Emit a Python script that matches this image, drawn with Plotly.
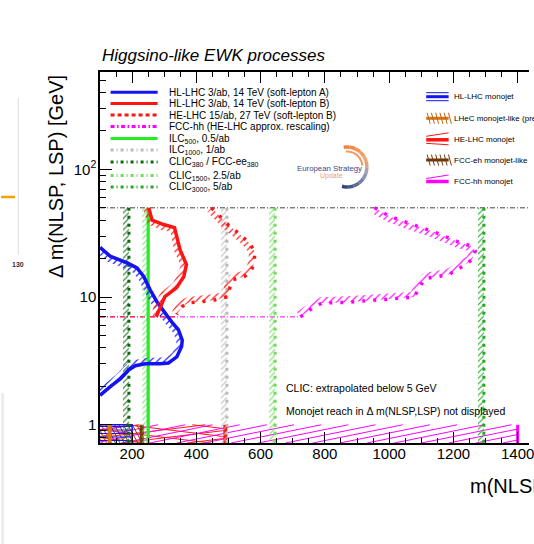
import math
import plotly.graph_objects as go

# ---------------- data ----------------
# HL-LHC 3/ab, 14 TeV, soft-lepton analysis A: reach contour (m(NLSP) [GeV], dm [GeV])
hl_a_mass = [100, 133, 185, 215, 236, 256, 277, 298, 323, 344, 356, 354, 339, 313, 287, 241, 210, 190, 164, 133, 100]
hl_a_dm = [24.5, 20.8, 18.5, 16.9, 14.5, 11.4, 9.2, 7.7, 6.4, 5.55, 4.6, 4.1, 3.4, 3.05, 3.0, 3.0, 2.9, 2.7, 2.3, 2.0, 1.7]

# HL-LHC 3/ab, 14 TeV, soft-lepton analysis B
hl_b_mass = [252, 262, 298, 332, 349, 369, 361, 338, 302, 287, 275]
hl_b_dm = [50, 40, 37, 35, 23.5, 18, 14.5, 11.8, 10.1, 8.4, 7.0]

# HE-LHC 15/ab, 27 TeV, soft-lepton B
he_mass = [447, 473, 498, 529, 565, 581, 581, 570, 550, 514, 504, 498, 457, 416, 375, 355, 339]
he_dm = [50, 43, 37, 32, 26.5, 22.8, 19.0, 15.9, 14.5, 13.7, 11.8, 10.1, 9.5, 9.2, 9.0, 8.4, 7.3]

# FCC-hh, rescaled from HE-LHC
fcc_mass = [955, 1001, 1073, 1145, 1216, 1258, 1268, 1258, 1222, 1186, 1114, 1099, 1078, 970, 868, 791, 755, 724]
fcc_dm = [50, 43, 37, 32, 27, 25, 23, 19.6, 17, 15, 14, 12.5, 10, 9.5, 9.1, 9.0, 8.0, 7.0]

# lower edge (dash-dotted continuation) of the soft-lepton curves
floor_dm = 7.0
he_floor_mass = [100, 339]
fcc_floor_mass = [100, 724]

# upper limit of the displayed dm range
top_dm = 50.0

# lepton-collider reach: vertical lines up to top_dm
lepton_names = ["CLIC380", "ILC500", "ILC1000", "CLIC1500", "CLIC3000"]
lepton_mass = [190, 250, 495, 645, 1295]

# monojet reach (drawn in the dm < 1 GeV strip)
monojet_names = ["HL-LHC", "LHeC", "HE-LHC", "FCC-eh", "FCC-hh"]
monojet_mass = [200, 130, 490, 230, 1400]
monojet_dm_max = 1.0

x_tick_vals = [200, 400, 600, 800, 1000, 1200, 1400]
y_tick_vals = [1, 10, 100]
y_tick_text = ["1", "10", "10<sup>2</sup>"]
y_minor_vals = [0.8, 0.9] + [k for k in range(2, 10)] + [10 * k for k in range(2, 10)] + [100 * k for k in range(2, 6)]

left_legend_labels = [
    "HL-LHC 3/ab, 14 TeV (soft-lepton A)",
    "HL-LHC 3/ab, 14 TeV (soft-lepton B)",
    "HE-LHC 15/ab, 27 TeV (soft-lepton B)",
    "FCC-hh (HE-LHC approx. rescaling)",
    "ILC<sub>500</sub>, 0.5/ab",
    "ILC<sub>1000</sub>, 1/ab",
    "CLIC<sub>380</sub> / FCC-ee<sub>380</sub>",
    "CLIC<sub>1500</sub>, 2.5/ab",
    "CLIC<sub>3000</sub>, 5/ab",
]
right_legend_labels = [
    "HL-LHC monojet",
    "LHeC monojet-like (prel.)",
    "HE-LHC monojet",
    "FCC-eh monojet-like",
    "FCC-hh monojet",
]

# ---------------- geometry / styles ----------------
FIG_W, FIG_H = 534, 544
M_L, M_R, M_T, M_B = 100, 0, 72, 101
PLOT_W = FIG_W - M_L - M_R
PLOT_H = FIG_H - M_T - M_B
PX_PER_GEV = 0.325
PX_PER_DECADE = 127.7
X_MIN = 100.0
X_MAX = X_MIN + PLOT_W / PX_PER_GEV
LOGY_MIN = math.log10(0.72)
LOGY_MAX = LOGY_MIN + PLOT_H / PX_PER_DECADE
Y_MIN = 10 ** LOGY_MIN

FONT = "Liberation Sans, Arial, Helvetica, sans-serif"

BLUE = "#1212f2"
RED = "#ff1414"
MAGENTA = "#ff00ff"
lepton_colors = ["#0b6b0b", "#22ee22", "#bbbbbb", "#6fdd5a", "#22aa22"]
lepton_hatch = ["#0b6b0b", "#77dd77", "#bbbbbb", "#6fdd5a", "#22aa22"]
lepton_dash = ["3px,5px", "solid", "3px,5px", "3px,5px", "3px,5px"]
monojet_colors = [BLUE, "#d9750f", RED, "#7a3b0c", MAGENTA]


def to_px(x, y):
    return M_L + (x - X_MIN) * PX_PER_GEV, M_T + (LOGY_MAX - math.log10(y)) * PX_PER_DECADE


def to_data(px, py):
    return X_MIN + (px - M_L) / PX_PER_GEV, 10 ** (LOGY_MAX - (py - M_T) / PX_PER_DECADE)


def to_paper(px, py):
    return (px - M_L) / PLOT_W, (M_T + PLOT_H - py) / PLOT_H


def band_polygon(xs, ys, width_px):
    """Closed polygon for a hatched band running along the left-hand side of a curve."""
    pts = [to_px(x, y) for x, y in zip(xs, ys)]
    n = len(pts)
    off = []
    for i in range(n):
        ax, ay = 0.0, 0.0
        for a, b in ((i - 1, i), (i, i + 1)):
            if a >= 0 and b < n:
                dx, dy = pts[b][0] - pts[a][0], pts[b][1] - pts[a][1]
                ln = math.hypot(dx, dy) or 1.0
                ax += -dy / ln
                ay += dx / ln
        ln = math.hypot(ax, ay) or 1.0
        off.append((pts[i][0] + width_px * ax / ln, pts[i][1] + width_px * ay / ln))
    ring = pts + off[::-1] + [pts[0]]
    dat = [to_data(px, py) for px, py in ring]
    return [d[0] for d in dat], [d[1] for d in dat]


def hatch_rect(x0, x1, y0, y1, slope, step):
    """Parallel hatch lines (screen slope dy/dx) clipped to a data rectangle."""
    X0, Ya = to_px(x0, y0)
    X1, Yb = to_px(x1, y1)
    top, bot = min(Ya, Yb), max(Ya, Yb)
    xs, ys = [], []
    segs = []
    if abs(slope) <= 1:
        span = abs(slope) * (X1 - X0)
        c = top - span - step * 0.5
        while c <= bot + span + step:
            # y = slope*(x - X0) + c
            if slope == 0:
                if top <= c <= bot:
                    segs.append(((X0, c), (X1, c)))
            else:
                xa = X0 + (top - c) / slope
                xb = X0 + (bot - c) / slope
                lo, hi = max(min(xa, xb), X0), min(max(xa, xb), X1)
                if lo < hi:
                    segs.append(((lo, slope * (lo - X0) + c), (hi, slope * (hi - X0) + c)))
            c += step
    else:
        k = 1.0 / slope
        span = abs(k) * (bot - top)
        c = X0 - span - step * 0.5
        while c <= X1 + span + step:
            # x = k*(y - top) + c
            ya = top + (X0 - c) / k
            yb = top + (X1 - c) / k
            lo, hi = max(min(ya, yb), top), min(max(ya, yb), bot)
            if lo < hi:
                segs.append(((k * (lo - top) + c, lo), (k * (hi - top) + c, hi)))
            c += step
    for (pa, pb) in segs:
        da, db = to_data(*pa), to_data(*pb)
        xs += [da[0], db[0], None]
        ys += [da[1], db[1], None]
    return xs, ys


fig = go.Figure()


def add_line(xs, ys, color, width, dash="solid"):
    fig.add_trace(go.Scatter(x=xs, y=ys, mode="lines", showlegend=False, hoverinfo="skip",
                             line=dict(color=color, width=width, dash=dash)))


def add_band(xs, ys, color, width_px=6, size=5, solidity=0.22):
    bx, by = band_polygon(xs, ys, width_px)
    fig.add_trace(go.Scatter(x=bx, y=by, mode="lines", fill="toself", showlegend=False,
                             hoverinfo="skip", line=dict(width=0, color="rgba(0,0,0,0)"),
                             fillcolor="rgba(0,0,0,0)",
                             fillpattern=dict(shape="/", size=size, solidity=solidity,
                                              fgcolor=color, bgcolor="rgba(0,0,0,0)",
                                              fillmode="replace")))


# ---------------- monojet strip ----------------
mj = dict(zip(monojet_names, zip(monojet_mass, monojet_colors)))
hatch_specs = [
    ("HE-LHC", 0.12, 8.0, 1.0),
    ("HE-LHC", -0.12, 8.0, 1.0),
    ("FCC-hh", -0.2, 5.5, 1.0),
    ("FCC-eh", 1.8, 4.5, 1.0),
    ("LHeC", 1.8, 4.5, 1.0),
    ("HL-LHC", 0.0, 3.5, 1.0),
]
for name, slope, step, w in hatch_specs:
    reach, col = mj[name]
    hx, hy = hatch_rect(X_MIN, reach, Y_MIN, monojet_dm_max, slope, step)
    add_line(hx, hy, col, w)

# HL-LHC monojet outline
reach, col = mj["HL-LHC"]
add_line([X_MIN, reach, reach], [monojet_dm_max, monojet_dm_max, Y_MIN], col, 1.5)
for name, width in (("LHeC", 4), ("FCC-eh", 4), ("HE-LHC", 4), ("FCC-hh", 3)):
    reach, col = mj[name]
    add_line([reach, reach], [Y_MIN, monojet_dm_max], col, width)

# ---------------- horizontal dash-dotted lines ----------------
add_line([X_MIN, X_MAX], [top_dm, top_dm], "#444444", 1, "5px,2px,1px,2px")
add_line(fcc_floor_mass, [floor_dm, floor_dm], MAGENTA, 1, "5px,2px,1px,2px")
add_line(he_floor_mass, [floor_dm, floor_dm], RED, 1, "5px,2px,1px,2px")

# ---------------- lepton colliders ----------------
for m, col, hcol, dash in zip(lepton_mass, lepton_colors, lepton_hatch, lepton_dash):
    add_band([m, m], [top_dm, Y_MIN], hcol, width_px=6, size=4, solidity=0.25)
    add_line([m, m], [top_dm, Y_MIN], col, 3.2 if dash == "solid" else 3, dash)

# ---------------- soft-lepton curves ----------------
add_band(hl_a_mass, hl_a_dm, BLUE)
add_line(hl_a_mass, hl_a_dm, BLUE, 3.5)
add_band(hl_b_mass, hl_b_dm, RED)
add_line(hl_b_mass, hl_b_dm, RED, 3.5)
add_band(he_mass, he_dm, RED)
add_line(he_mass, he_dm, RED, 3.5, "3px,8px")
add_band(fcc_mass, fcc_dm, MAGENTA)
add_line(fcc_mass, fcc_dm, MAGENTA, 3.5, "3px,8px")

# ---------------- decorations (legends, logo, labels) ----------------
shapes = []
annotations = []


def seg(p0, p1, color, width, dash="solid"):
    a, b = to_paper(*p0), to_paper(*p1)
    shapes.append(dict(type="line", xref="paper", yref="paper", x0=a[0], y0=a[1], x1=b[0], y1=b[1],
                       line=dict(color=color, width=width, dash=dash), layer="above"))


def text(px, py, s, size, color="black", xanchor="left", **kw):
    x, y = to_paper(px, py)
    annotations.append(dict(xref="paper", yref="paper", x=x, y=y, text=s, showarrow=False,
                            xanchor=xanchor, yanchor="middle", font=dict(family=FONT, size=size, color=color), **kw))


# left legend
left_rows = [92.3, 103.5, 115, 126.5, 138.5, 150, 162, 175.5, 187]
left_styles = [
    (BLUE, "solid"), (RED, "solid"), (RED, "4px,3px"), (MAGENTA, "4px,2.5px,1.5px,2.5px"),
    ("#22ee22", "solid"), ("#bbbbbb", "3px,3px,1px,3px"), ("#0b6b0b", "3px,3px,1px,3px"),
    ("#6fdd5a", "3px,3px,1px,3px"), ("#22aa22", "3px,3px,1px,3px"),
]
for ry, (col, dash), lab in zip(left_rows, left_styles, left_legend_labels):
    seg((110.7, ry), (158.3, ry), col, 3, dash)
    text(168, ry, lab, 10)

# right legend
right_rows = [96.7, 118.3, 139.3, 160, 181]
rx0, rx1 = 430, 452.7
# HL-LHC monojet
r = right_rows[0]
seg((rx0, r), (rx1, r), BLUE, 3)
seg((rx0, r - 4), (rx1, r - 4), BLUE, 1)
seg((rx0, r + 4), (rx1, r + 4), BLUE, 1)
# LHeC
r = right_rows[1]
seg((rx0, r), (rx1, r), "#d9750f", 3)
for k in range(6):
    xk = rx0 + 1 + k * 4.3
    seg((xk, r - 5.5), (xk + 3, r + 5.5), "#b8651a", 1)
# HE-LHC monojet
r = right_rows[2]
seg((rx0, r + 0.5), (rx1, r + 0.5), RED, 3.5)
seg((rx0, r - 3), (rx1, r - 6.5), RED, 1)
seg((rx0, r + 4), (rx1, r + 5.5), RED, 1)
# FCC-eh
r = right_rows[3]
seg((rx0, r), (rx1, r), "#6b3510", 3)
for k in range(6):
    xk = rx0 + 1 + k * 4.3
    seg((xk, r - 5.5), (xk + 3, r + 5.5), "#7a3b0c", 1)
# FCC-hh monojet
r = right_rows[4]
seg((rx0, r + 0.5), (rx1, r + 0.5), MAGENTA, 3.5)
seg((rx0, r - 2.5), (rx1, r - 6), MAGENTA, 1)
for ry, lab in zip(right_rows, right_legend_labels):
    text(456, ry, lab, 8)

# European Strategy Update logo
def lerp_color(c0, c1, t):
    a = [int(c0[i:i + 2], 16) for i in (1, 3, 5)]
    b = [int(c1[i:i + 2], 16) for i in (1, 3, 5)]
    return "#%02x%02x%02x" % tuple(int(round(a[j] + (b[j] - a[j]) * t)) for j in range(3))


logo_stops = [(0.0, "#f07d3a"), (0.4, "#f3a877"), (0.6, "#8e9cc0"), (1.0, "#283a70")]


def stop_color(t):
    for (t0, c0), (t1, c1) in zip(logo_stops[:-1], logo_stops[1:]):
        if t <= t1:
            return lerp_color(c0, c1, (t - t0) / (t1 - t0))
    return logo_stops[-1][1]


def arc_path(cx, cy, rad, a0, a1, n=8):
    pts = []
    for i in range(n + 1):
        a = math.radians(a0 + (a1 - a0) * i / n)
        pts.append(to_paper(cx + rad * math.cos(a), cy - rad * math.sin(a)))
    return "M " + " L ".join("%.5f,%.5f" % p for p in pts)


LCX, LCY = 350, 167
nseg = 12
for i in range(nseg):
    a0 = 100 - 205 * i / nseg
    a1 = 100 - 205 * (i + 1) / nseg
    shapes.append(dict(type="path", xref="paper", yref="paper", path=arc_path(LCX, LCY, 20, a0, a1, 3),
                       line=dict(color=stop_color((i + 0.5) / nseg), width=3.5), layer="above"))
shapes.append(dict(type="path", xref="paper", yref="paper", path=arc_path(LCX, LCY, 15.5, 95, 5, 10),
                   line=dict(color="#f39a5e", width=2), layer="above"))
text(332.5, 168.5, "European Strategy", 7.8, "#3a4a85", xanchor="center")
text(334.5, 175.5, "Update", 7, "#f0a070", xanchor="center")

# plot texts
title_x, title_y = to_paper(100, 56)
annotations.append(dict(xref="paper", yref="paper", x=title_x, y=title_y, xanchor="left", yanchor="middle",
                        text="<i>Higgsino-like EWK processes</i>", showarrow=False,
                        font=dict(family=FONT, size=17, color="black")))
text(286, 387.7, "CLIC: extrapolated below 5 GeV", 10.5)
text(286, 411, "Monojet reach in \u0394 m(NLSP,LSP) not displayed", 10.5)
text(472, 486, "m(NLSP) [GeV]", 20)
yt = to_paper(55, 176.5)
annotations.append(dict(xref="paper", yref="paper", x=yt[0], y=yt[1], xanchor="center", yanchor="middle",
                        text="\u0394 m(NLSP, LSP) [GeV]", textangle=-90, showarrow=False,
                        font=dict(family=FONT, size=20, color="black")))

# neighbouring page elements at the left border
seg((17.3, 98), (17.3, 255), "#dddddd", 1)
seg((0, 197), (14, 197), "#f5a000", 2.5)
text(17, 264, "<b>130</b>", 7, "#333333", xanchor="center")
p0, p1 = to_paper(0, 393), to_paper(3, 544)
shapes.append(dict(type="rect", xref="paper", yref="paper", x0=p0[0], y0=p1[1], x1=p1[0], y1=p0[1],
                   line=dict(width=0), fillcolor="#ececec", layer="below"))

fig.update_layout(
    width=FIG_W, height=FIG_H,
    margin=dict(l=M_L, r=M_R, t=M_T, b=M_B, pad=0),
    paper_bgcolor="white", plot_bgcolor="white",
    showlegend=False,
    font=dict(family=FONT, color="black"),
    shapes=shapes, annotations=annotations,
    xaxis=dict(range=[X_MIN, X_MAX], tickvals=x_tick_vals, ticks="inside", ticklen=11, tickwidth=1.2,
               tickcolor="black", showline=True, linecolor="black", linewidth=1.5, mirror="ticks",
               showgrid=False, zeroline=False, tickfont=dict(size=15, family=FONT),
               ticklabeloverflow="allow", ticklabelstandoff=-4,
               minor=dict(ticks="inside", ticklen=5.5, tickwidth=1, tickcolor="black", dtick=50, tick0=0,
                          showgrid=False)),
    yaxis=dict(type="log", range=[LOGY_MIN, LOGY_MAX], tickmode="array", tickvals=y_tick_vals,
               ticktext=y_tick_text, ticks="inside", ticklen=12, tickwidth=1.2, tickcolor="black",
               showline=True, linecolor="black", linewidth=1.5, showgrid=False, zeroline=False,
               tickfont=dict(size=15, family=FONT), ticklabelstandoff=-1,
               minor=dict(ticks="inside", ticklen=6, tickwidth=1, tickcolor="black", tickmode="array",
                          tickvals=y_minor_vals, showgrid=False)),
)

fig.write_html("out.html")
